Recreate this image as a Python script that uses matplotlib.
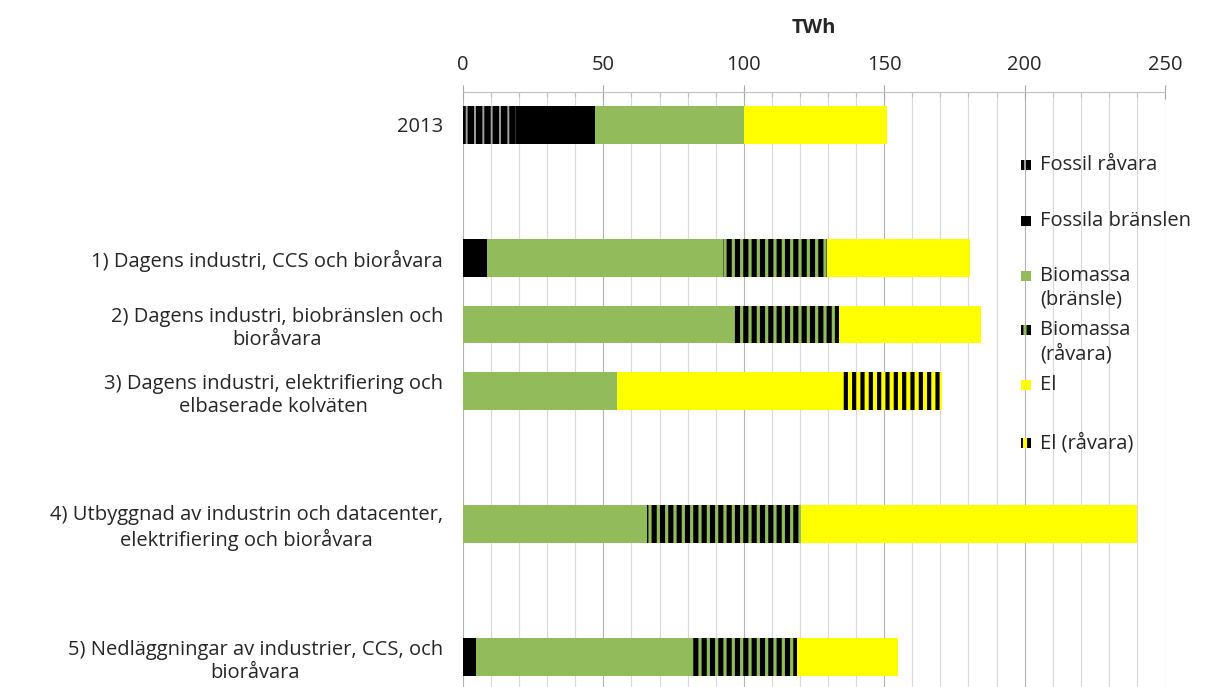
import matplotlib
matplotlib.use('Agg')
import matplotlib.pyplot as plt
from matplotlib.patches import Rectangle

plt.rcParams['font.family'] = ['Open Sans', 'DejaVu Sans']

# Kategorier (tomma rader ger mellanrum som i originalet)
categories = [
    '2013',
    '',
    '1) Dagens industri, CCS och bioråvara',
    '2) Dagens industri, biobränslen och\nbioråvara',
    '3) Dagens industri, elektrifiering och\nelbaserade kolväten',
    '',
    '4) Utbyggnad av industrin och datacenter,\nelektrifiering och bioråvara',
    '',
    '5) Nedläggningar av industrier, CCS, och\nbioråvara',
]

# TWh per serie
fossil_ravara    = [19, 0, 0,   0,    0,    0, 0,     0, 0]
fossila_bransle  = [28, 0, 8.5, 0,    0,    0, 0,     0, 4.5]
biomassa_bransle = [53, 0, 84,  96.5, 55,   0, 65.5,  0, 77.5]
biomassa_ravara  = [0,  0, 37,  37.5, 0,    0, 55,    0, 37]
el               = [51, 0, 51,  50.5, 80,   0, 119.5, 0, 36]
el_ravara        = [0,  0, 0,   0,    35.5, 0, 0,     0, 0]

series_labels = ['Fossil råvara', 'Fossila bränslen', 'Biomassa\n(bränsle)',
                 'Biomassa\n(råvara)', 'El', 'El (råvara)']

GREEN = '#92bb5c'
YELLOW = '#ffff00'
TXT = '#262626'
FS = 14.5
styles = [
    dict(facecolor='#a0a0a0', edgecolor='black', hatch='||', hlw=4.6),
    dict(facecolor='black', edgecolor='black', hatch=None, hlw=1),
    dict(facecolor=GREEN, edgecolor=GREEN, hatch=None, hlw=1),
    dict(facecolor=GREEN, edgecolor='black', hatch='||', hlw=3.7),
    dict(facecolor=YELLOW, edgecolor=YELLOW, hatch=None, hlw=1),
    dict(facecolor=YELLOW, edgecolor='black', hatch='||', hlw=3.0),
]

W, H = 1205, 687
fig = plt.figure(figsize=(W / 100, H / 100), dpi=100)
ax = fig.add_axes([463 / W, 1 - 690.25 / H, (1165 - 463) / W, (690.25 - 91.75) / H])

data = [fossil_ravara, fossila_bransle, biomassa_bransle, biomassa_ravara, el, el_ravara]
ypos = list(range(len(categories)))
left = [0] * len(categories)
for vals, st in zip(data, styles):
    # hatch-bredden läses in när patcharna skapas
    plt.rcParams['hatch.linewidth'] = st['hlw']
    ax.barh(ypos, vals, left=left, height=0.57, facecolor=st['facecolor'],
            edgecolor=st['edgecolor'], linewidth=0, hatch=st['hatch'], zorder=3)
    left = [l + v for l, v in zip(left, vals)]

ax.set_xlim(0, 250)
ax.set_ylim(len(categories) - 0.5, -0.5)
ax.set_yticks(ypos)
ax.set_yticklabels(categories, fontsize=FS, color=TXT, multialignment='center')
ax.tick_params(axis='y', length=0, pad=14.4)

ax.xaxis.tick_top()
ax.set_xticks(range(0, 251, 50))
ax.set_xticks(range(0, 251, 10), minor=True)
ax.tick_params(axis='x', which='major', direction='inout', length=10, width=0.8,
               color='#a6a6a6', labelsize=FS, labelcolor=TXT, pad=7)
ax.tick_params(axis='x', which='minor', direction='in', length=3.6, width=0.8,
               color='#bfbfbf')
ax.grid(which='major', axis='x', color='#b3b3b3', linewidth=0.8, zorder=0)
ax.grid(which='minor', axis='x', color='#d9d9d9', linewidth=0.8, zorder=0)
ax.set_axisbelow(True)
for s in ['left', 'right', 'bottom']:
    ax.spines[s].set_visible(False)
ax.spines['top'].set_color('#bfbfbf')
ax.spines['top'].set_linewidth(0.8)

fig.text(814 / W, 1 - 28 / H, 'TWh', ha='center', va='center', fontsize=FS,
         fontweight='bold', color=TXT)

# Legend (manuellt placerad som i Excel)
marker_y = [165, 221, 276, 330, 385, 443]
for lab, st, my in zip(series_labels, styles, marker_y):
    plt.rcParams['hatch.linewidth'] = st['hlw']
    r = Rectangle((1021 / W, 1 - (my + 5) / H), 10 / W, 10 / H,
                  transform=fig.transFigure, facecolor=st['facecolor'],
                  edgecolor=st['edgecolor'], linewidth=0, hatch=st['hatch'])
    fig.add_artist(r)
    for i, line in enumerate(lab.split('\n')):
        fig.text(1040 / W, 1 - (my + i * 24) / H, line, ha='left', va='center',
                 fontsize=FS, color=TXT)

fig.savefig('out.png', dpi=100)
